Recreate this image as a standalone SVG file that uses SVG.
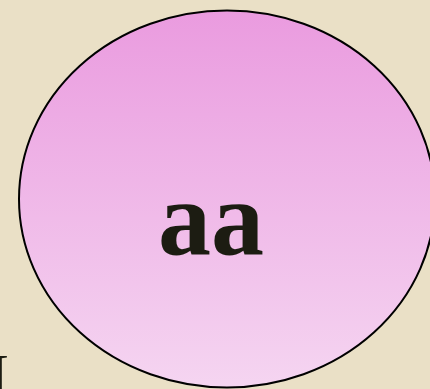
<svg xmlns="http://www.w3.org/2000/svg" width="430" height="389" viewBox="0 0 430 389">
<defs>
<linearGradient id="pink" x1="0" y1="0" x2="0" y2="1">
<stop offset="0" stop-color="#EA9BDF"/>
<stop offset="1" stop-color="#F5D5F1"/>
</linearGradient>
<style>
.node{fill:url(#pink);stroke:#000;stroke-width:2}
.lbl{font-family:"Liberation Serif","Times New Roman",serif;font-weight:bold;font-size:106px;fill:#1C1C12;text-anchor:middle}
.side{font-family:"Liberation Serif","Times New Roman",serif;font-size:60px;fill:#1C1C12}
</style>
</defs>
<rect width="430" height="389" fill="#EAE0C6"/>
<g id="node-aa">
<ellipse class="node" cx="227" cy="199" rx="208" ry="188.5"/>
<text class="lbl" x="211" y="254">aa</text>
</g>
<g id="connectors"></g>
<text class="side" x="-11" y="395">I</text>
</svg>
